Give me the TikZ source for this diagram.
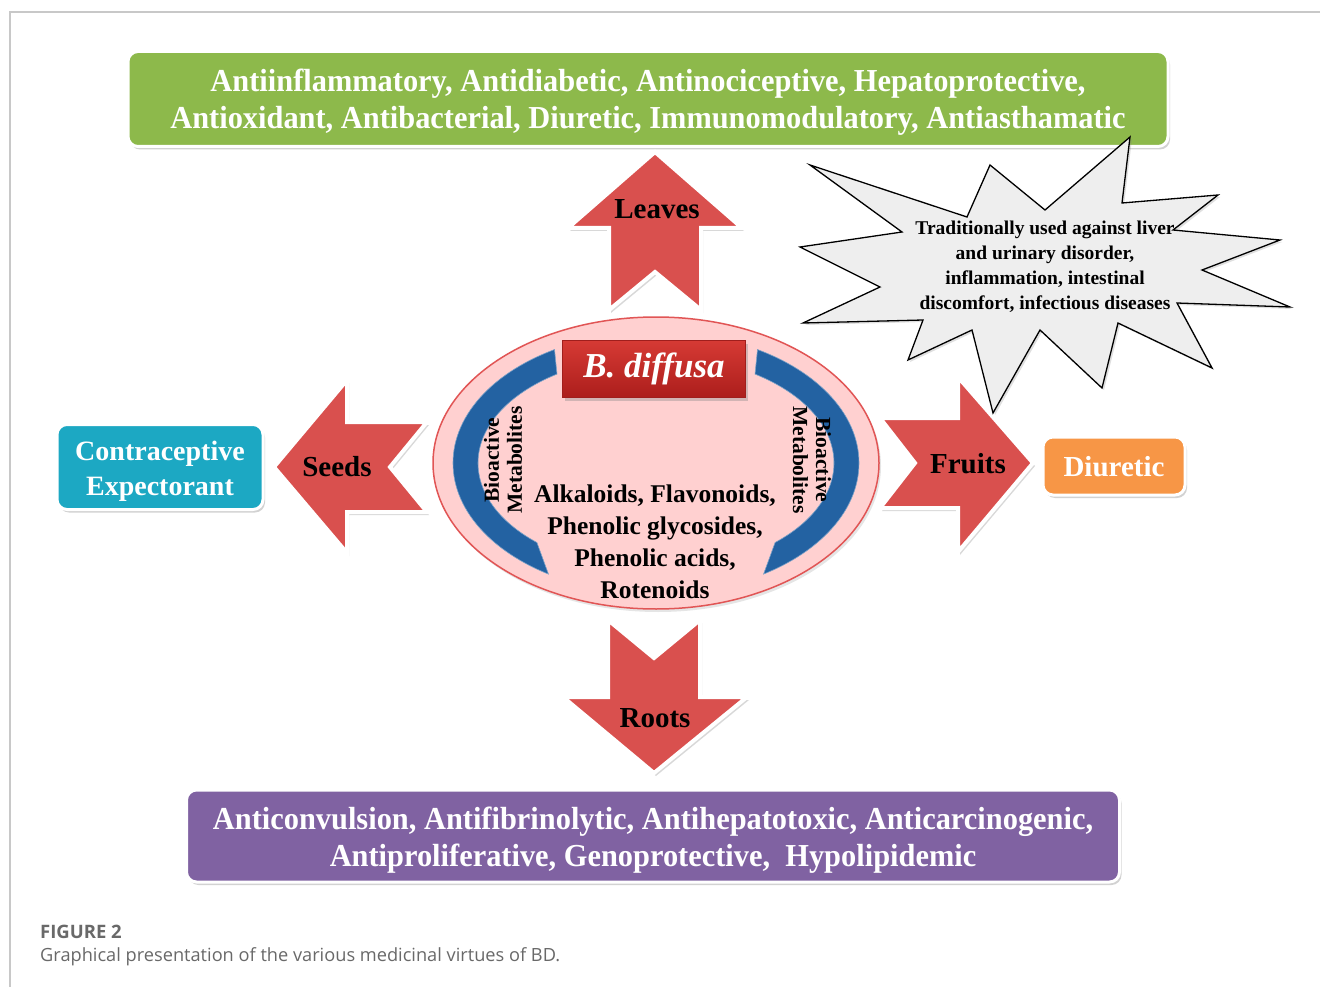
\documentclass[tikz,border=0pt]{standalone}
\usepackage{fontspec}
\setmainfont{Liberation Serif}
\newfontfamily\condfont{Liberation Serif}[FakeStretch=0.95]
\newfontfamily\capfont{Open Sans}
\usetikzlibrary{shapes.geometric,shadows}
\definecolor{framegray}{RGB}{200,200,200}
\definecolor{bxgreen}{RGB}{141,185,75}
\definecolor{bxpurple}{RGB}{128,98,162}
\definecolor{bxteal}{RGB}{28,168,195}
\definecolor{bxorange}{RGB}{247,150,70}
\definecolor{arrred}{RGB}{217,80,78}
\definecolor{bandblue}{RGB}{35,98,162}
\definecolor{corepink}{RGB}{255,208,208}
\definecolor{coreedge}{RGB}{225,85,85}
\definecolor{burstgray}{RGB}{238,238,238}
\definecolor{captgray}{RGB}{105,105,105}
\tikzset{
  effbox/.style={rounded corners=10pt, draw=white, line width=3pt,
    drop shadow={opacity=0.35, shadow xshift=2pt, shadow yshift=-3pt}, inner sep=0pt},
  efftext/.style={text=white, align=center, inner sep=0pt},
  bigarrow/.style={fill=arrred, draw=white, line width=4pt, line join=miter,
    drop shadow={opacity=0.3, shadow xshift=2pt, shadow yshift=-3pt}},
  arrlabel/.style={font=\bfseries\fontsize{29}{33}\selectfont, text=black, inner sep=0pt},
  band/.style={fill=bandblue, draw=bandblue!60!white, line width=0.6pt},
  biolabel/.style={font=\bfseries\fontsize{21.5}{23}\selectfont, align=center, inner sep=0pt},
  burst/.style={fill=burstgray, draw=black, line width=1.3pt, line join=miter,
    drop shadow={opacity=0.25, shadow xshift=2pt, shadow yshift=-2pt}}
}
\begin{document}
\begin{tikzpicture}[x=1pt,y=-1pt]
\useasboundingbox (0,0) rectangle (1320,987);
\fill[white] (0,0) rectangle (1320,987);
\draw[framegray, line width=1.5pt] (10,987) -- (10,12) -- (1320,12);

% effect boxes
\node[effbox, fill=bxgreen, minimum width=1040, minimum height=95] (leafeff) at (648,99) {};
\node[efftext, font={\condfont\bfseries\fontsize{32}{37}\selectfont}] (leaftext) at (648,102)
  {Antiinflammatory, Antidiabetic, Antinociceptive, Hepatoprotective,\\
   Antioxidant, Antibacterial, Diuretic, Immunomodulatory, Antiasthamatic};
\node[effbox, fill=bxpurple, minimum width=933, minimum height=92] (rooteff) at (653,836) {};
\node[efftext, font={\condfont\bfseries\fontsize{32}{37}\selectfont}] (roottext) at (653,840)
  {Anticonvulsion, Antifibrinolytic, Antihepatotoxic, Anticarcinogenic,\\
   Antiproliferative, Genoprotective,\ \ Hypolipidemic};
\node[effbox, fill=bxteal, minimum width=206, minimum height=85] (seedeff) at (160,467) {};
\node[efftext, font={\bfseries\fontsize{28}{35}\selectfont}] (seedtext) at (160,471)
  {Contraceptive\\Expectorant};
\node[effbox, fill=bxorange, minimum width=142, minimum height=58] (fruiteff) at (1114,466) {};
\node[efftext, font={\bfseries\fontsize{29}{33}\selectfont}] (fruittext) at (1114,467) {Diuretic};

% big arrows
\draw[bigarrow] (655,152) -- (742,228) -- (701,228) -- (701,310) -- (655,272) -- (609,310) -- (609,228) -- (568,228) -- cycle;
\draw[bigarrow] (608,620) -- (654,658) -- (700,620) -- (700,697) -- (747,697) -- (654,773) -- (563,697) -- (608,697) -- cycle;
\draw[bigarrow] (274,467) -- (347,380) -- (347,422) -- (427,422) -- (390,467) -- (427,512) -- (347,512) -- (347,553) -- cycle;
\draw[bigarrow] (880,418) -- (958,418) -- (958,377) -- (1033,463) -- (958,552) -- (958,508) -- (880,508) -- (915,463) -- cycle;
\node[arrlabel] (leaves) at (657,209) {Leaves};
\node[arrlabel] (roots) at (655,718) {Roots};
\node[arrlabel] (seeds) at (337,467) {Seeds};
\node[arrlabel] (fruits) at (968,464) {Fruits};

% central ellipse
\node[ellipse, minimum width=446, minimum height=292, fill=corepink, draw=coreedge, line width=1.5pt,
  drop shadow={opacity=0.2, shadow xshift=2pt, shadow yshift=-3pt}] (core) at (656,463) {};

% blue curved bands
\filldraw[band] plot[domain=240:122, samples=60] ({656+203*cos(\x)},{463+131*sin(\x)})
  -- plot[domain=132:236.2, samples=60] ({656+178*cos(\x)},{463+107*sin(\x)}) -- cycle;
\filldraw[band] plot[domain=300:418, samples=60] ({656+203*cos(\x)},{463+131*sin(\x)})
  -- plot[domain=408:303.8, samples=60] ({656+178*cos(\x)},{463+107*sin(\x)}) -- cycle;

% B. diffusa title
\node[minimum width=183, minimum height=57, top color={rgb,255:red,214;green,58;blue,52},
  bottom color={rgb,255:red,172;green,30;blue,28}, draw={rgb,255:red,160;green,30;blue,28}, line width=0.6pt,
  drop shadow={opacity=0.35, shadow xshift=2pt, shadow yshift=-3pt}, text=white, inner sep=0pt,
  font={\bfseries\itshape\fontsize{35}{38}\selectfont}] (title) at (654,369)
  {B. diffusa};

\node[biolabel, rotate=90] (bioL) at (503,460) {Bioactive\\Metabolites};
\node[biolabel, rotate=-90] (bioR) at (812,460) {Bioactive\\Metabolites};
\node[align=center, inner sep=0pt, font=\bfseries\fontsize{25.5}{32}\selectfont] (metab) at (655,542)
  {Alkaloids, Flavonoids,\\Phenolic glycosides,\\Phenolic acids,\\Rotenoids};

% starburst
\draw[burst] (1130,137) -- (1122,203) -- (1218,195) -- (1173,230) -- (1280,240) -- (1202,270) -- (1290,307)
  -- (1177,303) -- (1212,368) -- (1118,323) -- (1102,388) -- (1040,330) -- (993,413) -- (972,330)
  -- (908,360) -- (923,320) -- (803,323) -- (880,287) -- (800,247) -- (902,232) -- (810,165)
  -- (967,217) -- (990,165) -- (1045,210) -- cycle;
\node[align=center, inner sep=0pt, font=\bfseries\fontsize{19.5}{25}\selectfont] (trad) at (1045,267)
  {Traditionally used against liver\\and urinary disorder,\\inflammation, intestinal\\discomfort, infectious diseases};

% caption
\node[anchor=west, inner sep=0pt, text=captgray, font=\capfont\bfseries\fontsize{18.5}{20}\selectfont] (fig) at (40,932) {FIGURE 2};
\node[anchor=west, inner sep=0pt, text=captgray, font=\capfont\fontsize{18.2}{20}\selectfont] (capt) at (40,957)
  {Graphical presentation of the various medicinal virtues of BD.};
\end{tikzpicture}
\end{document}
